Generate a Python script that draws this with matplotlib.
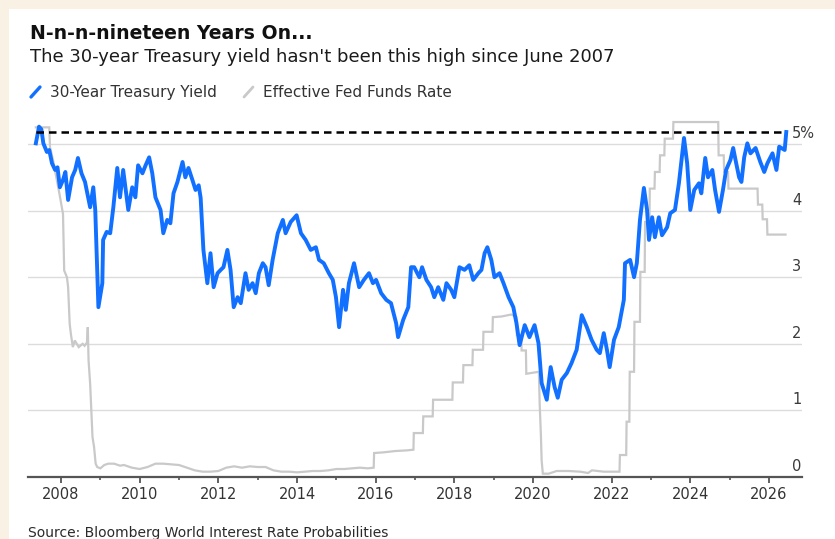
import matplotlib
matplotlib.use("Agg")
import matplotlib.pyplot as plt
from matplotlib.lines import Line2D
from matplotlib.patches import Rectangle

# ---------------- data ----------------
yield_years = [2007.36, 2007.44, 2007.50, 2007.55, 2007.64, 2007.70, 2007.77, 2007.85, 2007.91,
               2007.97, 2008.05, 2008.11, 2008.18, 2008.28, 2008.36, 2008.43, 2008.52, 2008.61,
               2008.74, 2008.82, 2008.87, 2008.95, 2009.05, 2009.07, 2009.16, 2009.25, 2009.33,
               2009.43, 2009.50, 2009.58, 2009.71, 2009.81, 2009.89, 2009.96, 2010.07, 2010.15,
               2010.24, 2010.32, 2010.40, 2010.53, 2010.60, 2010.70, 2010.78, 2010.86, 2010.96,
               2011.09, 2011.16, 2011.24, 2011.34, 2011.42, 2011.50, 2011.55, 2011.62, 2011.72,
               2011.80, 2011.88, 2011.98, 2012.06, 2012.13, 2012.23, 2012.31, 2012.39, 2012.49,
               2012.57, 2012.69, 2012.77, 2012.87, 2012.95, 2013.03, 2013.13, 2013.20, 2013.28,
               2013.38, 2013.51, 2013.64, 2013.71, 2013.84, 2013.99, 2014.10, 2014.22, 2014.35,
               2014.48, 2014.56, 2014.68, 2014.81, 2014.91, 2014.99, 2015.07, 2015.17, 2015.24,
               2015.32, 2015.45, 2015.58, 2015.70, 2015.83, 2015.93, 2016.01, 2016.14, 2016.27,
               2016.39, 2016.52, 2016.57, 2016.70, 2016.83, 2016.90, 2016.98, 2017.11, 2017.18,
               2017.29, 2017.41, 2017.49, 2017.59, 2017.72, 2017.80, 2017.92, 2018.00, 2018.13,
               2018.26, 2018.38, 2018.48, 2018.61, 2018.69, 2018.77, 2018.84, 2018.94, 2019.02,
               2019.15, 2019.25, 2019.38, 2019.50, 2019.58, 2019.66, 2019.79, 2019.91, 2020.04,
               2020.14, 2020.22, 2020.35, 2020.45, 2020.55, 2020.63, 2020.73, 2020.86, 2020.98,
               2021.11, 2021.24, 2021.37, 2021.49, 2021.62, 2021.70, 2021.80, 2021.88, 2021.95,
               2022.06, 2022.18, 2022.31, 2022.34, 2022.47, 2022.57, 2022.64, 2022.72, 2022.82,
               2022.90, 2022.95, 2023.03, 2023.10, 2023.20, 2023.28, 2023.41, 2023.49, 2023.61,
               2023.71, 2023.84, 2023.92, 2024.00, 2024.10, 2024.22, 2024.28, 2024.38, 2024.45,
               2024.56, 2024.63, 2024.73, 2024.83, 2024.91, 2025.02, 2025.09, 2025.15, 2025.24,
               2025.30, 2025.37, 2025.45, 2025.53, 2025.66, 2025.78, 2025.88, 2025.96, 2026.09,
               2026.19, 2026.26, 2026.40, 2026.44]
yield_values = [5.01, 5.26, 5.22, 5.01, 4.88, 4.91, 4.71, 4.61, 4.65,
                4.35, 4.46, 4.58, 4.16, 4.50, 4.61, 4.79, 4.56, 4.43,
                4.05, 4.35, 4.01, 2.55, 2.91, 3.56, 3.68, 3.66, 4.05,
                4.64, 4.20, 4.61, 4.01, 4.35, 4.20, 4.68, 4.56, 4.68,
                4.80, 4.56, 4.20, 4.01, 3.66, 3.86, 3.81, 4.26, 4.43,
                4.73, 4.50, 4.64, 4.46, 4.31, 4.38, 4.19, 3.41, 2.91,
                3.36, 2.85, 3.06, 3.11, 3.15, 3.41, 3.11, 2.55, 2.70,
                2.61, 3.06, 2.81, 2.91, 2.76, 3.06, 3.21, 3.15, 2.88,
                3.26, 3.66, 3.86, 3.66, 3.83, 3.93, 3.66, 3.56, 3.41,
                3.45, 3.26, 3.21, 3.06, 2.96, 2.70, 2.25, 2.81, 2.51,
                2.91, 3.21, 2.85, 2.96, 3.06, 2.91, 2.96, 2.76, 2.66,
                2.61, 2.31, 2.10, 2.36, 2.55, 3.15, 3.15, 3.00, 3.15,
                2.96, 2.85, 2.70, 2.85, 2.66, 2.91, 2.81, 2.70, 3.15,
                3.11, 3.18, 2.96, 3.06, 3.11, 3.36, 3.45, 3.26, 3.00,
                3.06, 2.91, 2.70, 2.55, 2.31, 1.98, 2.28, 2.10, 2.28,
                2.01, 1.41, 1.16, 1.65, 1.35, 1.19, 1.46, 1.56, 1.71,
                1.91, 2.43, 2.25, 2.06, 1.91, 1.86, 2.16, 1.91, 1.65,
                2.06, 2.25, 2.66, 3.21, 3.26, 3.00, 3.21, 3.86, 4.34,
                4.01, 3.56, 3.90, 3.60, 3.90, 3.63, 3.75, 3.96, 4.01,
                4.41, 5.09, 4.71, 4.01, 4.31, 4.41, 4.26, 4.79, 4.50,
                4.61, 4.31, 3.98, 4.31, 4.61, 4.76, 4.94, 4.76, 4.50,
                4.43, 4.80, 5.01, 4.86, 4.94, 4.73, 4.58, 4.71, 4.86,
                4.61, 4.96, 4.91, 5.18]

ffr_years = [2007.36, 2007.70, 2007.72, 2007.80, 2007.88, 2007.96, 2008.05, 2008.08, 2008.15,
             2008.18, 2008.22, 2008.25, 2008.30, 2008.35, 2008.45, 2008.55, 2008.60, 2008.66,
             2008.68, 2008.70, 2008.74, 2008.77, 2008.80, 2008.84, 2008.88, 2008.92, 2009.00,
             2009.10, 2009.20, 2009.35, 2009.50, 2009.60, 2009.80, 2010.00, 2010.20, 2010.40,
             2010.60, 2010.80, 2011.00, 2011.20, 2011.40, 2011.60, 2011.80, 2012.00, 2012.20,
             2012.40, 2012.60, 2012.80, 2013.00, 2013.20, 2013.40, 2013.60, 2013.80, 2014.00,
             2014.20, 2014.40, 2014.60, 2014.80, 2015.00, 2015.20, 2015.40, 2015.60, 2015.80,
             2015.95, 2015.96, 2016.20, 2016.50, 2016.80, 2016.96, 2016.97, 2017.20, 2017.21,
             2017.45, 2017.46, 2017.95, 2017.96, 2018.22, 2018.23, 2018.46, 2018.47, 2018.73,
             2018.74, 2018.97, 2018.98, 2019.20, 2019.45, 2019.58, 2019.59, 2019.70, 2019.71,
             2019.82, 2019.83, 2020.15, 2020.17, 2020.20, 2020.22, 2020.25, 2020.40, 2020.60,
             2020.90, 2021.20, 2021.40, 2021.50, 2021.80, 2022.20, 2022.21, 2022.37, 2022.38,
             2022.45, 2022.46, 2022.57, 2022.58, 2022.72, 2022.73, 2022.84, 2022.85, 2022.96,
             2022.97, 2023.09, 2023.10, 2023.22, 2023.23, 2023.34, 2023.35, 2023.56, 2023.57,
             2024.71, 2024.72, 2024.85, 2024.86, 2024.96, 2024.97, 2025.71, 2025.72, 2025.83,
             2025.84, 2025.95, 2025.96, 2026.42]
ffr_values = [5.25, 5.25, 4.95, 4.75, 4.50, 4.25, 3.95, 3.10, 3.00,
              2.85, 2.30, 2.15, 1.95, 2.05, 1.95, 2.00, 1.97, 2.02,
              2.25, 1.75, 1.40, 1.00, 0.60, 0.45, 0.20, 0.15, 0.13,
              0.18, 0.20, 0.20, 0.17, 0.18, 0.14, 0.12, 0.15, 0.20,
              0.20, 0.19, 0.18, 0.14, 0.10, 0.08, 0.08, 0.09, 0.14,
              0.16, 0.14, 0.16, 0.15, 0.15, 0.10, 0.08, 0.08, 0.07,
              0.08, 0.09, 0.09, 0.10, 0.12, 0.12, 0.13, 0.14, 0.13,
              0.14, 0.36, 0.37, 0.39, 0.40, 0.41, 0.66, 0.66, 0.91,
              0.91, 1.16, 1.16, 1.42, 1.42, 1.68, 1.68, 1.91, 1.91,
              2.18, 2.18, 2.40, 2.41, 2.44, 2.40, 2.13, 2.13, 1.90,
              1.90, 1.55, 1.58, 1.10, 0.65, 0.25, 0.05, 0.05, 0.09,
              0.09, 0.08, 0.06, 0.10, 0.08, 0.08, 0.33, 0.33, 0.83,
              0.83, 1.58, 1.58, 2.33, 2.33, 3.08, 3.08, 3.83, 3.83,
              4.33, 4.33, 4.58, 4.58, 4.83, 4.83, 5.08, 5.08, 5.33,
              5.33, 4.83, 4.83, 4.58, 4.58, 4.33, 4.33, 4.09, 4.09,
              3.87, 3.87, 3.64, 3.64]

y_ticks = [0, 1, 2, 3, 4, 5]
y_tick_labels = ["0", "1", "2", "3", "4", "5%"]
x_major = list(range(2008, 2027, 2))
x_minor = list(range(2009, 2027, 2))

title = "N-n-n-nineteen Years On..."
subtitle = "The 30-year Treasury yield hasn't been this high since June 2007"
legend_labels = ["30-Year Treasury Yield", "Effective Fed Funds Rate"]
source = "Source: Bloomberg World Interest Rate Probabilities"

# ---------------- styling ----------------
W, H = 835, 539
BLUE = "#1170ff"
GRAY = "#c9c9c9"
CREAM = "#f9f2e4"

plt.rcParams["font.family"] = ["DejaVu Sans"]

fig = plt.figure(figsize=(W / 100, H / 100), dpi=100, facecolor=CREAM)
fig.patches.append(Rectangle((9 / W, 0), 1, 1 - 9 / H, transform=fig.transFigure,
                             facecolor="white", edgecolor="none", zorder=-10))

px_per_unit = 66.6
ymax = 5.5
ax = fig.add_axes([28 / W, (H - 477) / H, 774 / W, ymax * px_per_unit / H])
ax.set_facecolor("none")
ax.set_xlim(2007.16, 2026.84)
ax.set_ylim(0, ymax)

for v in y_ticks[1:]:
    ax.axhline(v, color="#dcdcdc", lw=1.0, zorder=1)

ax.plot(ffr_years, ffr_values, color=GRAY, lw=1.6, zorder=3, solid_joinstyle="miter")
ax.plot(yield_years, yield_values, color=BLUE, lw=2.8, zorder=4, solid_joinstyle="round")
ax.hlines(yield_values[-1], yield_years[0], yield_years[-1], colors="black",
          linestyles=(0, (3.0, 2.0)), lw=1.8, zorder=5)

for v, lab in zip(y_ticks, y_tick_labels):
    ax.annotate(lab, xy=(0.9871, v), xycoords=("axes fraction", "data"),
                xytext=(0, 4.3), textcoords="offset points", ha="left", va="baseline",
                fontsize=10.5, color="#3a3a3a", annotation_clip=False)

ax.set_yticks([])
for s in ["left", "right", "top"]:
    ax.spines[s].set_visible(False)
ax.spines["bottom"].set_color("#555555")
ax.spines["bottom"].set_linewidth(1.6)
ax.set_xticks(x_major)
ax.set_xticklabels([str(x) for x in x_major])
ax.set_xticks(x_minor, minor=True)
ax.tick_params(axis="x", which="major", length=4, width=1.3, color="#555555",
               pad=3.5, labelsize=10.5, labelcolor="#333333")
ax.tick_params(axis="x", which="minor", length=2.5, width=1.2, color="#555555")

# ---------------- header texts ----------------
fig.text(30 / W, 1 - 39 / H, title, fontsize=13.6, fontweight="bold",
         color="#111111", ha="left", va="baseline")
fig.text(30 / W, 1 - 62 / H, subtitle, fontsize=13, color="#1a1a1a",
         ha="left", va="baseline")

fig.lines.append(Line2D([31 / W, 40 / W], [1 - 97 / H, 1 - 87 / H], transform=fig.transFigure,
                        color=BLUE, lw=2.4, solid_capstyle="round"))
fig.text(50 / W, 1 - 97 / H, legend_labels[0], fontsize=11, color="#333333",
         ha="left", va="baseline")
fig.lines.append(Line2D([244 / W, 253 / W], [1 - 97 / H, 1 - 87 / H], transform=fig.transFigure,
                        color=GRAY, lw=2.0, solid_capstyle="round"))
fig.text(263 / W, 1 - 97 / H, legend_labels[1], fontsize=11, color="#333333",
         ha="left", va="baseline")

fig.text(28 / W, 1 - 537.5 / H, source, fontsize=10, color="#2a2a2a",
         ha="left", va="baseline")

fig.savefig("out.png", dpi=100, facecolor=CREAM)
